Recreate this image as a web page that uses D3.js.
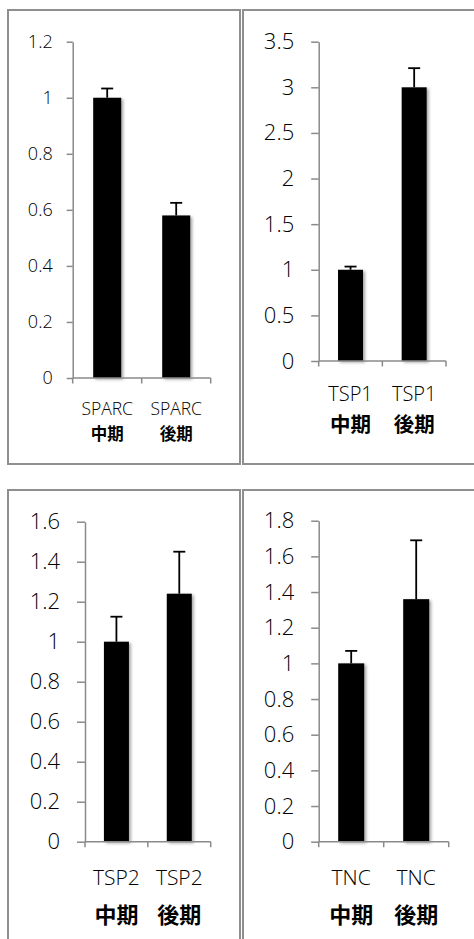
<!DOCTYPE html>
<html><head><meta charset="utf-8">
<script src="https://cdn.jsdelivr.net/npm/d3@7"></script>
<style>html,body{margin:0;padding:0;background:#fff;} svg{display:block}</style>
</head><body>
<script>
// ---- data ----
const stageLabels = ["中期", "後期"];

const sparcCategories = ["SPARC", "SPARC"];
const sparcValues = [1.0, 0.58];
const sparcErrors = [0.033, 0.045];
const sparcTicks = [0, 0.2, 0.4, 0.6, 0.8, 1.0, 1.2];

const tsp1Categories = ["TSP1", "TSP1"];
const tsp1Values = [1.0, 3.0];
const tsp1Errors = [0.035, 0.21];
const tsp1Ticks = [0, 0.5, 1, 1.5, 2, 2.5, 3, 3.5];

const tsp2Categories = ["TSP2", "TSP2"];
const tsp2Values = [1.0, 1.24];
const tsp2Errors = [0.125, 0.21];
const tsp2Ticks = [0, 0.2, 0.4, 0.6, 0.8, 1.0, 1.2, 1.4, 1.6];

const tncCategories = ["TNC", "TNC"];
const tncValues = [1.0, 1.36];
const tncErrors = [0.07, 0.33];
const tncTicks = [0, 0.2, 0.4, 0.6, 0.8, 1.0, 1.2, 1.4, 1.6, 1.8];

// ---- layout ----
const W = 474, H = 939;
const svg = d3.select("body").append("svg").attr("width", W).attr("height", H);

const defs = svg.append("defs");
const f = defs.append("filter").attr("id", "shadow").attr("x", "-30%").attr("y", "-10%").attr("width", "160%").attr("height", "130%");
f.append("feDropShadow").attr("dx", 2).attr("dy", 1.5).attr("stdDeviation", 1.6)
  .attr("flood-color", "#000").attr("flood-opacity", 0.35);

const panels = [
  { cats: sparcCategories, vals: sparcValues, errs: sparcErrors, ticks: sparcTicks,
    frame: {x: 8, y: 10, w: 232, h: 454},
    plot: {left: 72.7, right: 210.7, top: 41.7, bottom: 378},
    tickFont: 18, catFont: 17.5, stageFont: 16.5, catY: 408, stageY: 433, barW: 28, tickLen: 6, gap: 14 },
  { cats: tsp1Categories, vals: tsp1Values, errs: tsp1Errors, ticks: tsp1Ticks,
    frame: {x: 243, y: 10, w: 260, h: 454},
    plot: {left: 318.7, right: 446, top: 41.7, bottom: 361},
    tickFont: 22, catFont: 20, stageFont: 20.5, catY: 393.5, stageY: 423, barW: 25, tickLen: 7.5, gap: 17 },
  { cats: tsp2Categories, vals: tsp2Values, errs: tsp2Errors, ticks: tsp2Ticks,
    frame: {x: 8, y: 490, w: 232, h: 470},
    plot: {left: 85, right: 210.7, top: 521.7, bottom: 841.7},
    tickFont: 22, catFont: 21, stageFont: 22, catY: 877, stageY: 913, barW: 25, tickLen: 8, gap: 17 },
  { cats: tncCategories, vals: tncValues, errs: tncErrors, ticks: tncTicks,
    frame: {x: 243, y: 490, w: 260, h: 470},
    plot: {left: 318.7, right: 448.7, top: 520.7, bottom: 841.7},
    tickFont: 22, catFont: 21, stageFont: 22, catY: 877, stageY: 913, barW: 26, tickLen: 7.5, gap: 17 }
];

const axisColor = "#8a8a8a";
const latinFont = "'Open Sans', 'Noto Sans', sans-serif";
const fmt = d => String(+d.toFixed(1));

panels.forEach(p => {
  const g = svg.append("g");
  // frame
  g.append("rect").attr("x", p.frame.x).attr("y", p.frame.y)
    .attr("width", p.frame.w).attr("height", p.frame.h)
    .attr("fill", "none").attr("stroke", "#8f8f8f").attr("stroke-width", 2);

  const yMax = p.ticks[p.ticks.length - 1];
  const y = d3.scaleLinear().domain([0, yMax]).range([p.plot.bottom, p.plot.top]);
  const x = d3.scaleBand().domain(d3.range(p.vals.length)).range([p.plot.left, p.plot.right]).padding(0);

  // y axis
  const yAxis = d3.axisLeft(y).tickValues(p.ticks).tickFormat(fmt)
    .tickSizeInner(p.tickLen).tickSizeOuter(0).tickPadding(p.gap);
  const ya = g.append("g").attr("transform", `translate(${p.plot.left},0)`).call(yAxis);
  ya.select(".domain").attr("stroke", axisColor).attr("stroke-width", 1.5);
  ya.selectAll(".tick line").attr("stroke", axisColor).attr("stroke-width", 1.5);
  ya.selectAll(".tick text").attr("fill", "#000").attr("font-size", p.tickFont)
    .attr("font-family", latinFont).attr("font-weight", 300);

  // bars
  g.selectAll("rect.bar").data(p.vals).join("rect").attr("class", "bar")
    .attr("x", (d, i) => x(i) + x.bandwidth() / 2 - p.barW / 2)
    .attr("y", d => y(d))
    .attr("width", p.barW)
    .attr("height", d => y(0) - y(d))
    .attr("fill", "#000")
    .attr("filter", "url(#shadow)");

  // error bars (upper only)
  p.vals.forEach((v, i) => {
    const cx = x(i) + x.bandwidth() / 2;
    g.append("line").attr("x1", cx).attr("x2", cx)
      .attr("y1", y(v)).attr("y2", y(v + p.errs[i]))
      .attr("stroke", "#000").attr("stroke-width", 1.8);
    g.append("line").attr("x1", cx - 6).attr("x2", cx + 6)
      .attr("y1", y(v + p.errs[i])).attr("y2", y(v + p.errs[i]))
      .attr("stroke", "#000").attr("stroke-width", 1.8);
  });

  // x axis
  g.append("line").attr("x1", p.plot.left).attr("x2", p.plot.right)
    .attr("y1", y(0)).attr("y2", y(0))
    .attr("stroke", axisColor).attr("stroke-width", 1.5);
  const bounds = [p.plot.left, ...d3.range(1, p.vals.length).map(i => x(i)), p.plot.right];
  g.selectAll("line.xt").data(bounds).join("line").attr("class", "xt")
    .attr("x1", d => d).attr("x2", d => d)
    .attr("y1", y(0)).attr("y2", y(0) + 5.5)
    .attr("stroke", axisColor).attr("stroke-width", 1.5);

  // category labels
  p.cats.forEach((c, i) => {
    const cx = x(i) + x.bandwidth() / 2;
    g.append("text").attr("x", cx).attr("y", p.catY)
      .attr("text-anchor", "middle").attr("dominant-baseline", "central")
      .attr("font-family", latinFont).attr("font-weight", 300)
      .attr("font-size", p.catFont).attr("fill", "#000").text(c);
    g.append("text").attr("x", cx).attr("y", p.stageY)
      .attr("text-anchor", "middle").attr("dominant-baseline", "central")
      .attr("font-family", "'Noto Sans CJK JP', 'Noto Sans CJK SC', sans-serif")
      .attr("font-weight", 700)
      .attr("font-size", p.stageFont).attr("fill", "#000").text(stageLabels[i]);
  });
});
</script>
</body></html>
